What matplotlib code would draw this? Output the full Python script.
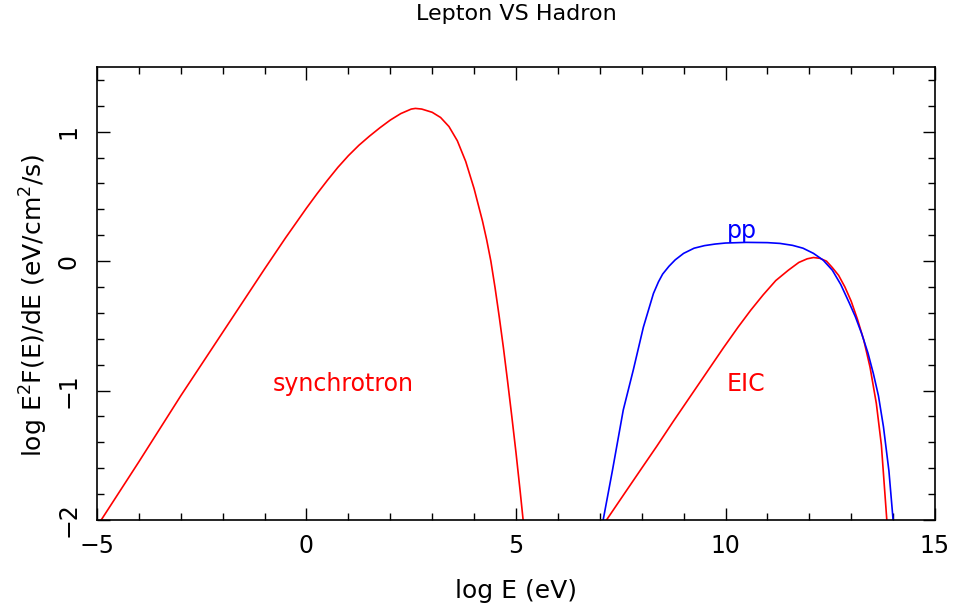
import matplotlib
matplotlib.use("Agg")
import matplotlib.pyplot as plt
from matplotlib.ticker import MultipleLocator

# Synchrotron (lepton)
sync_x = [-4.9, -4.0, -3.0, -2.0, -1.0, -0.5, 0.0, 0.25, 0.5, 0.75, 1.0, 1.25, 1.5, 1.75,
          2.0, 2.25, 2.5, 2.6, 2.75, 3.0, 3.2, 3.4, 3.6, 3.8, 4.0, 4.2, 4.3, 4.4, 4.5,
          4.6, 4.7, 4.8, 4.9, 5.0, 5.1, 5.17]
sync_y = [-2.0, -1.55, -1.04, -0.55, -0.06, 0.18, 0.41, 0.52, 0.625, 0.725, 0.815, 0.895,
          0.965, 1.03, 1.09, 1.14, 1.175, 1.18, 1.175, 1.15, 1.11, 1.04, 0.93, 0.77, 0.56,
          0.31, 0.165, 0.0, -0.205, -0.43, -0.67, -0.93, -1.2, -1.48, -1.78, -2.0]

# pp (hadron)
pp_x = [7.08, 7.3, 7.56, 7.8, 8.04, 8.28, 8.4, 8.5, 8.65, 8.8, 9.0, 9.25, 9.5, 9.75,
        10.0, 10.5, 11.0, 11.3, 11.6, 11.85, 12.1, 12.33, 12.55, 12.75, 12.95, 13.1,
        13.25, 13.4, 13.53, 13.65, 13.77, 13.9, 14.0]
pp_y = [-2.0, -1.62, -1.15, -0.84, -0.51, -0.25, -0.16, -0.10, -0.04, 0.01, 0.06, 0.10,
        0.12, 0.132, 0.14, 0.145, 0.143, 0.137, 0.122, 0.10, 0.06, 0.008, -0.07, -0.18,
        -0.32, -0.43, -0.56, -0.71, -0.87, -1.04, -1.28, -1.62, -2.0]

# EIC (lepton)
eic_x = [7.16, 7.6, 8.0, 8.36, 8.75, 9.15, 9.55, 9.95, 10.3, 10.6, 10.9, 11.2, 11.5,
         11.75, 11.95, 12.1, 12.25, 12.41, 12.55, 12.7, 12.85, 13.0, 13.15, 13.3, 13.45,
         13.6, 13.72, 13.85]
eic_y = [-2.0, -1.79, -1.6, -1.43, -1.24, -1.05, -0.86, -0.67, -0.51, -0.38, -0.26, -0.15,
         -0.07, -0.01, 0.018, 0.028, 0.022, 0.0, -0.05, -0.11, -0.2, -0.31, -0.45, -0.61,
         -0.82, -1.1, -1.42, -2.0]

labels = ["synchrotron", "pp", "EIC"]
label_x = [0.87, 10.39, 10.49]
label_y = [-0.95, 0.23, -0.95]
label_colors = ["#ff0000", "#0000ff", "#ff0000"]

plt.rcParams['font.family'] = ['DejaVu Sans']

fig = plt.figure(figsize=(9.54, 6.10), dpi=100)
ax = fig.add_axes([97/954, 90/610, 838/954, 453/610])

ax.plot(sync_x, sync_y, color="#ff0000", lw=1.2)
ax.plot(eic_x, eic_y, color="#ff0000", lw=1.2)
ax.plot(pp_x, pp_y, color="#0000ff", lw=1.2)

for t, x, y, c in zip(labels, label_x, label_y, label_colors):
    ax.text(x, y, t, color=c, fontsize=17, ha="center", va="center")

ax.set_xlim(-5, 15)
ax.set_ylim(-2, 1.5)
ax.xaxis.set_major_locator(MultipleLocator(5))
ax.xaxis.set_minor_locator(MultipleLocator(1))
ax.yaxis.set_major_locator(MultipleLocator(1))
ax.yaxis.set_minor_locator(MultipleLocator(0.2))
ax.tick_params(which="both", direction="in", top=True, right=True, width=1.0, color="black")
ax.tick_params(which="major", length=9)
ax.tick_params(which="minor", length=5)
ax.tick_params(axis="x", which="major", labelsize=17, pad=10)
ax.tick_params(axis="y", which="major", labelsize=17, pad=12)
for lab in ax.get_yticklabels():
    lab.set_rotation(90)
    lab.set_va("center")
for s in ax.spines.values():
    s.set_linewidth(1.2)

ax.set_title("Lepton VS Hadron", fontsize=16, pad=34)
ax.set_xlabel("log E (eV)", fontsize=18)
ax.xaxis.set_label_coords(0.5, -0.13)
ax.xaxis.label.set_va("top")
ax.set_ylabel(r"log E$^2$F(E)/dE (eV/cm$^2$/s)", fontsize=18)
ax.yaxis.set_label_coords(-0.056, 0.475)

fig.savefig("out.png", dpi=100)
